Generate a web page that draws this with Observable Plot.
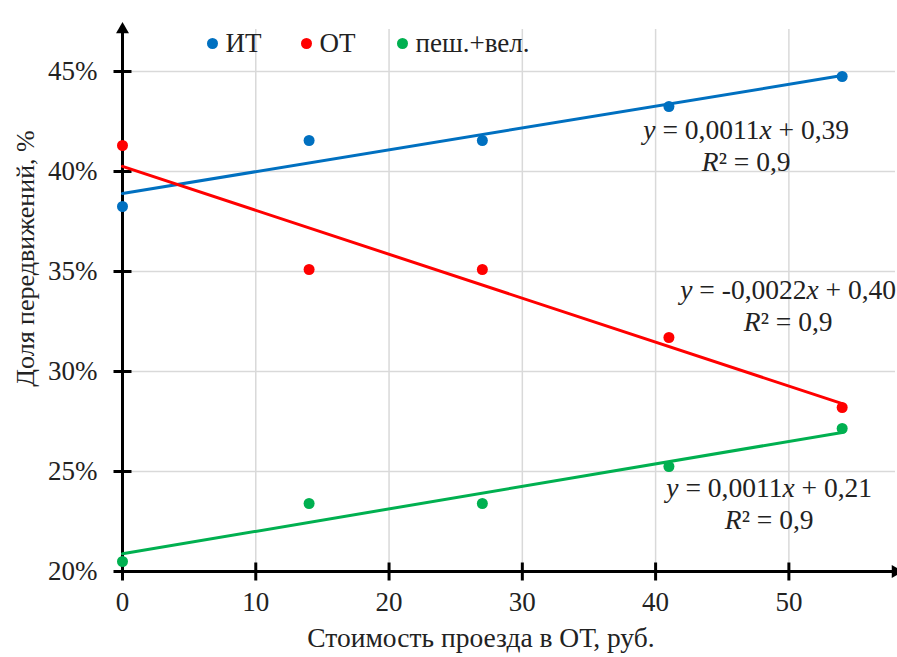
<!DOCTYPE html>
<html>
<head>
<meta charset="utf-8">
<script src="https://cdn.jsdelivr.net/npm/d3@7"></script>
<script src="https://cdn.jsdelivr.net/npm/@observablehq/plot@0.6"></script>
<style>
  html, body { margin: 0; padding: 0; background: #fff; }
  #wrap { position: relative; width: 897px; height: 657px; font-family: "Liberation Serif", "Times New Roman", serif; }
  #wrap svg, #wrap svg text, #wrap svg tspan { font-family: "Liberation Serif", "Times New Roman", serif !important; }
  #legend { position: absolute; left: 0; top: 0; width: 897px; height: 60px; font-size: 27px; color: #222; }
  #legend .item { position: absolute; top: 28px; display: flex; align-items: center; height: 30px; }
  #legend .sw { width: 11px; height: 11px; border-radius: 50%; margin-right: 8px; }
</style>
</head>
<body>
<div id="wrap"><div id="legend"></div></div>
<script>
// ---- data ----
const xCost = [0, 14, 27, 41, 54];
const itShare = [0.3825, 0.4155, 0.4155, 0.4325, 0.4475];
const otShare = [0.413, 0.351, 0.351, 0.317, 0.282];
const walkBikeShare = [0.205, 0.234, 0.234, 0.2525, 0.2715];
const seriesNames = ["ИТ", "ОТ", "пеш.+вел."];
const seriesColors = ["#0070C0", "#FF0000", "#00B050"];
const equations = [
  "y = 0,0011x + 0,39\nR² = 0,9",
  "y = -0,0022x + 0,40\nR² = 0,9",
  "y = 0,0011x + 0,21\nR² = 0,9"
];
const xTicks = [0, 10, 20, 30, 40, 50];
const yTicks = [0.20, 0.25, 0.30, 0.35, 0.40, 0.45];
const xTitle = "Стоимость проезда в ОТ, руб.";
const yTitle = "Доля передвижений, %";

// ---- build table ----
const seriesValues = [itShare, otShare, walkBikeShare];
const rows = [];
seriesNames.forEach((s, i) => xCost.forEach((x, j) => rows.push({series: s, x, y: seriesValues[i][j]})));
const lastPoints = seriesNames.map((s, i) => ({series: s, x: xCost[xCost.length - 1], y: seriesValues[i][xCost.length - 1], eq: equations[i]}));

const serif = "'Liberation Serif', 'Times New Roman', serif";
const xMax = 58, yMax = 0.471;
const hTick = {draw(ctx, size) { const s = 9; ctx.moveTo(-s, 0); ctx.lineTo(s, 0); }};
const vTick = {draw(ctx, size) { const s = 9; ctx.moveTo(0, -s); ctx.lineTo(0, s); }};

const eqOffsets = {"ИТ": [-96, 68], "ОТ": [-54, -103], "пеш.+вел.": [-73, 74]};

const chart = Plot.plot({
  width: 897,
  height: 657,
  marginLeft: 122,
  marginRight: 2,
  marginTop: 29,
  marginBottom: 86,
  style: {fontFamily: serif, fontSize: "27px", background: "transparent", color: "#222"},
  x: {domain: [0, xMax], axis: null},
  y: {domain: [0.20, yMax], axis: null},
  color: {domain: seriesNames, range: seriesColors},
  marks: [
    Plot.gridX(xTicks.filter(d => d > 0), {stroke: "#d9d9d9", strokeOpacity: 1, strokeWidth: 1.5}),
    Plot.gridY(yTicks.filter(d => d > 0.2), {stroke: "#d9d9d9", strokeOpacity: 1, strokeWidth: 1.5}),
    Plot.axisX(xTicks, {tickSize: 0, tickPadding: 20, tickFormat: d => String(d), label: null, fontSize: 27, fontFamily: serif}),
    Plot.axisY(yTicks, {tickSize: 0, tickPadding: 25, tickFormat: d3.format(".0%"), label: null, fontSize: 27, fontFamily: serif}),
    // axes lines
    Plot.ruleX([0], {y1: 0.20, y2: yMax, stroke: "black", strokeWidth: 3}),
    Plot.ruleY([0.20], {x1: 0, x2: xMax, stroke: "black", strokeWidth: 3}),
    Plot.dot([0], {x: d => d, y: () => yMax, symbol: "triangle", r: 4.8, fill: "black"}),
    Plot.dot([0.20], {x: () => xMax, y: d => d, symbol: "triangle", r: 4.8, fill: "black", rotate: 90}),
    // crossing ticks
    Plot.dot(yTicks, {x: () => 0, y: d => d, symbol: hTick, stroke: "black", strokeWidth: 3, r: 5}),
    Plot.dot(xTicks, {x: d => d, y: () => 0.20, symbol: vTick, stroke: "black", strokeWidth: 3, r: 5}),
    // trend lines
    Plot.linearRegressionY(rows, {x: "x", y: "y", stroke: "series", ci: 0, strokeWidth: 3}),
    Plot.dot(rows, {x: "x", y: "y", fill: "series", r: 5.5}),
    // equations
    Plot.text(lastPoints, {x: "x", y: "y", text: "eq", fontSize: 27.5, lineHeight: 1.17, fill: "#222", fontFamily: serif, textAnchor: "middle"}),
    // axis titles
    Plot.text([yTitle], {frameAnchor: "left", rotate: -90, textAnchor: "middle", lineAnchor: "middle", dx: -97, dy: -42, fontSize: 26, fill: "#222", fontFamily: serif}),
    Plot.text([xTitle], {frameAnchor: "bottom", textAnchor: "middle", lineAnchor: "middle", dx: -28, dy: 67, fontSize: 27.5, fill: "#222", fontFamily: serif})
  ]
});
document.getElementById("wrap").appendChild(chart);

// position equation labels relative to their series' last point (pixel offsets) and italicise variables
chart.querySelectorAll("text").forEach(t => {
  const lines = t.querySelectorAll("tspan");
  if (!lines.length) return;
  const first = lines[0].textContent;
  if (!first.startsWith("y =")) return;
  let key = null;
  equations.forEach((e, i) => { if (e.startsWith(first)) key = seriesNames[i]; });
  if (key) {
    const [ox, oy] = eqOffsets[key];
    const tr = t.getAttribute("transform") || "";
    t.setAttribute("transform", tr + ` translate(${ox},${oy})`);
  }
  lines.forEach(ts => {
    const str = ts.textContent;
    ts.textContent = "";
    str.split(/(y|x|R)/).forEach(part => {
      if (!part) return;
      if (part === "y" || part === "x" || part === "R") {
        const it = document.createElementNS("http://www.w3.org/2000/svg", "tspan");
        it.setAttribute("font-style", "italic");
        it.textContent = part;
        ts.appendChild(it);
      } else {
        ts.appendChild(document.createTextNode(part));
      }
    });
  });
});

// legend
const legendDotX = [212, 306, 402];
const legend = document.getElementById("legend");
seriesNames.forEach((s, i) => {
  const item = document.createElement("div");
  item.className = "item";
  item.style.left = (legendDotX[i] - 5.5) + "px";
  const sw = document.createElement("span");
  sw.className = "sw";
  sw.style.background = seriesColors[i];
  const lb = document.createElement("span");
  lb.textContent = s;
  item.appendChild(sw); item.appendChild(lb);
  legend.appendChild(item);
});
</script>
</body>
</html>
